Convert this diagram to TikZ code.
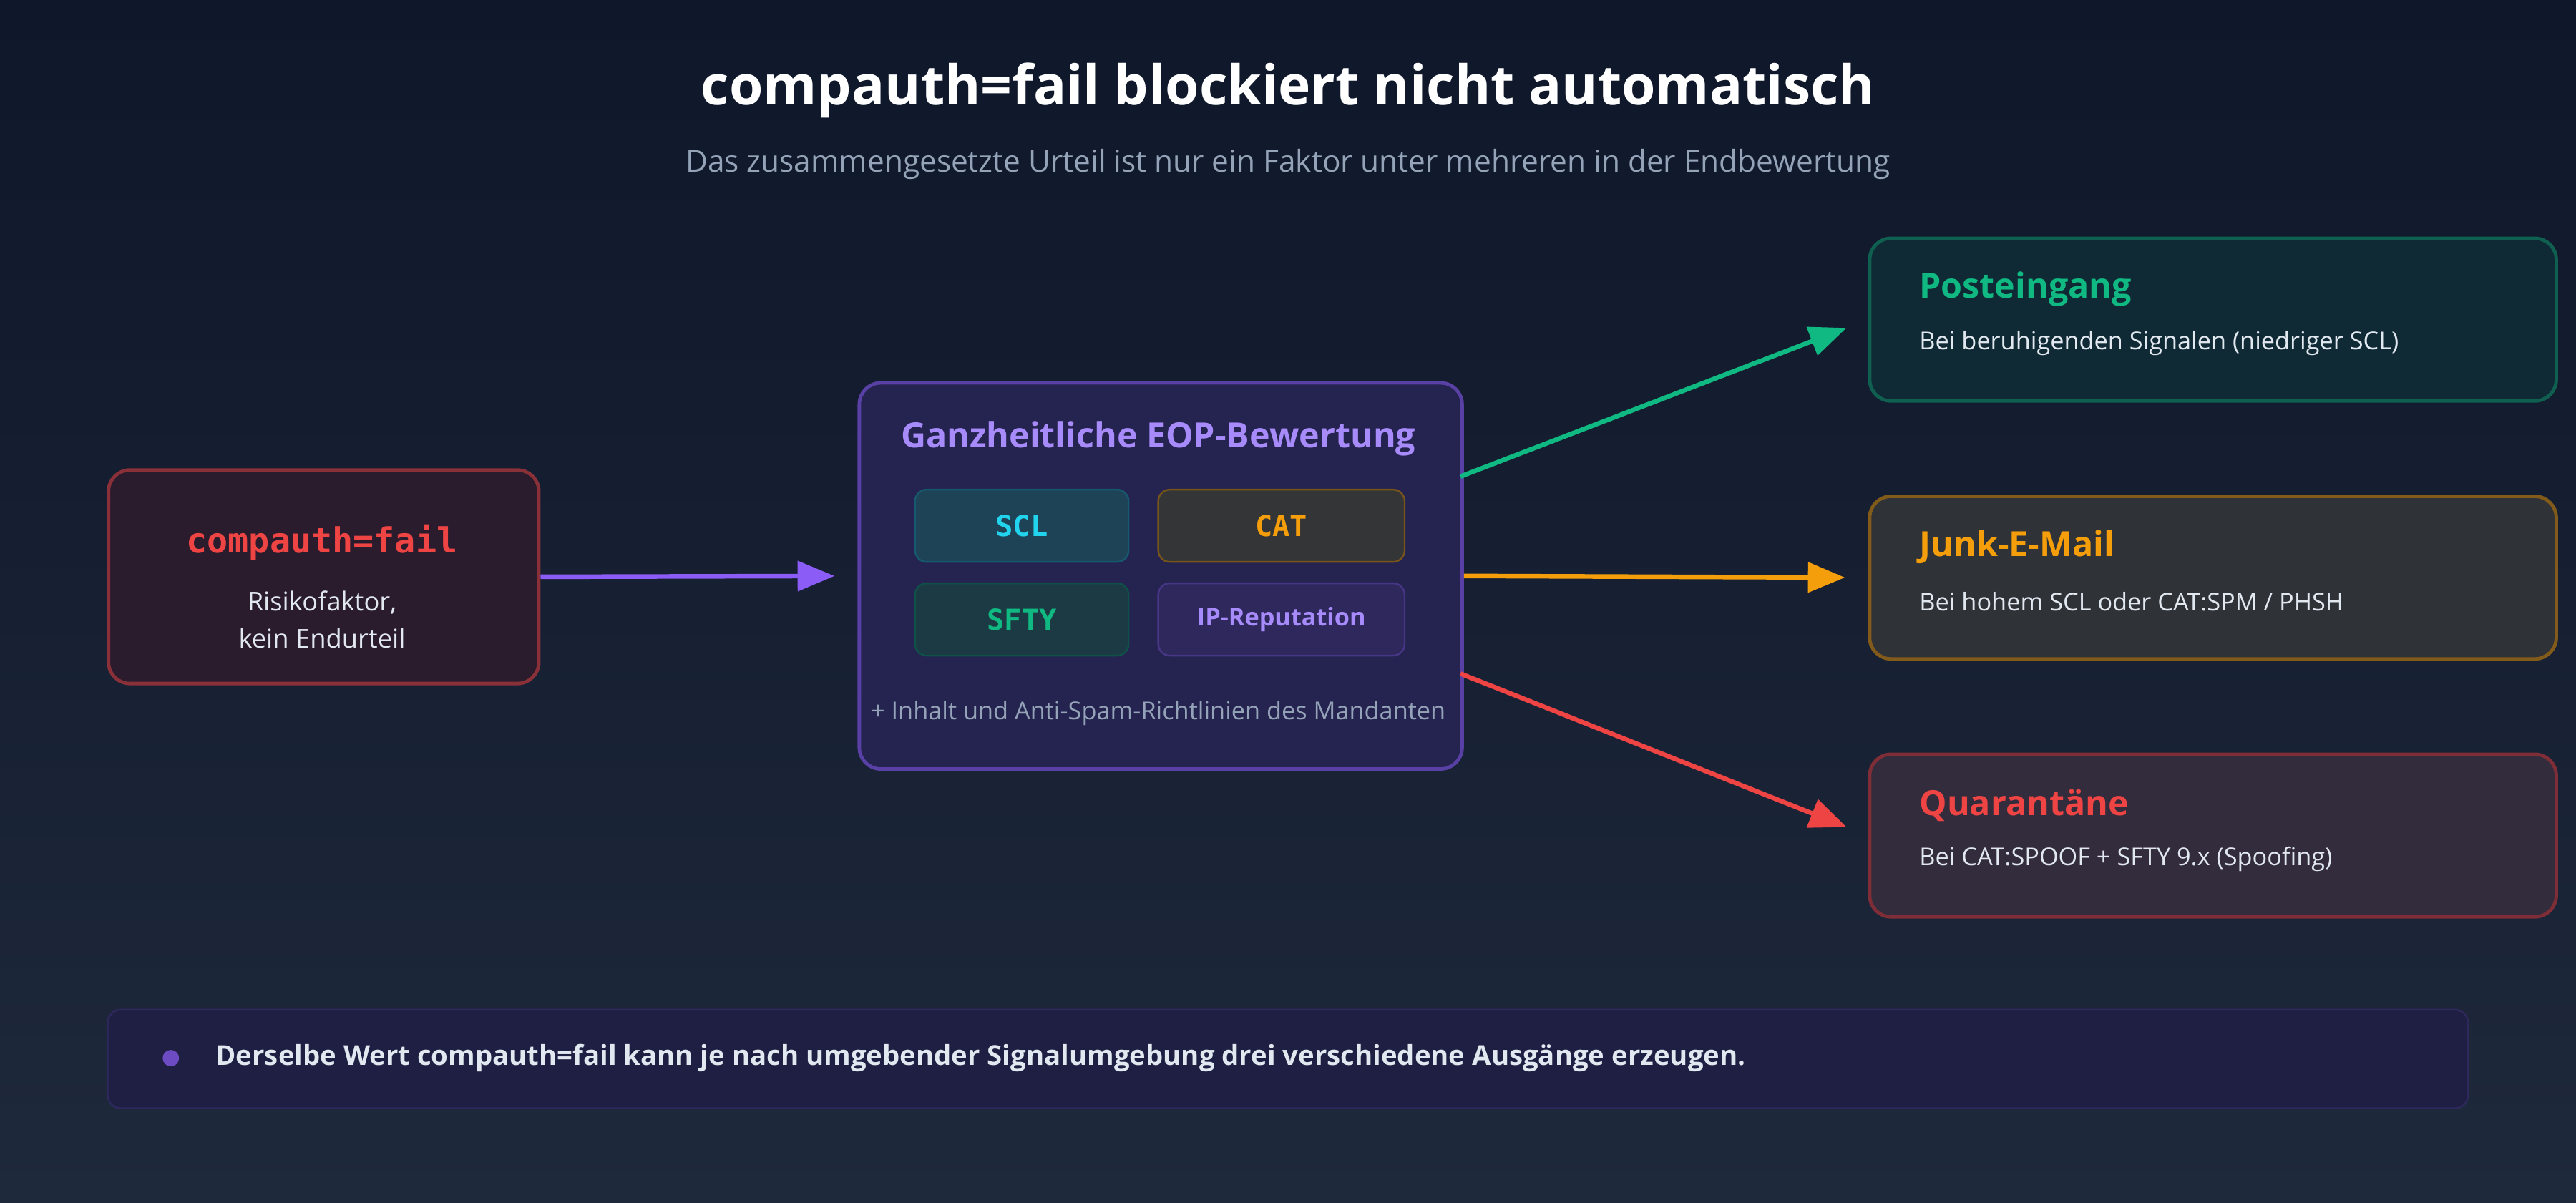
\documentclass[tikz,border=0pt]{standalone}
\usepackage{fontspec}
\setmainfont{Open Sans}
\setmonofont{DejaVu Sans Mono}
\usetikzlibrary{positioning,arrows.meta}
\definecolor{bgA}{HTML}{0F172A}
\definecolor{bgB}{HTML}{1E293B}
\definecolor{txt}{HTML}{E2E8F0}
\definecolor{mut}{HTML}{94A3B8}
\definecolor{vio}{HTML}{8B5CF6}
\definecolor{lvio}{HTML}{A78BFA}
\definecolor{grn}{HTML}{10B981}
\definecolor{org}{HTML}{F59E0B}
\definecolor{rd}{HTML}{EF4444}
\definecolor{cyn}{HTML}{22D3EE}
\tikzset{
  box/.style={draw, rounded corners=0.26cm, line width=1.2pt, inner sep=0pt, anchor=north west},
  chip/.style={draw, rounded corners=0.14cm, line width=0.6pt, minimum width=2.6cm, minimum height=0.88cm, font=\ttfamily\bfseries\fontsize{10}{12}\selectfont},
  flow/.style={line width=1.6pt, -{Triangle[length=0.45cm,width=0.36cm]}, shorten >=0.28cm},
  head/.style={anchor=west, inner xsep=0pt, font=\bfseries\fontsize{12}{14}\selectfont},
  body/.style={anchor=west, inner xsep=0pt, text=txt, font=\fontsize{8.5}{10}\selectfont}
}
\begin{document}
\begin{tikzpicture}[x=0.02cm, y=-0.02cm]
\shade[top color=bgA, bottom color=bgB] (0,0) rectangle (1568,732);
\useasboundingbox (0,0) rectangle (1568,732);
\node[text=white, font=\bfseries\fontsize{19}{22}\selectfont] (title) at (784,55) {compauth=fail blockiert nicht automatisch};
\node[text=mut, font=\fontsize{10.5}{12}\selectfont] (sub) at (784,100) {Das zusammengesetzte Urteil ist nur ein Faktor unter mehreren in der Endbewertung};
% input
\node[box, draw=rd!55!bgA, fill=rd!12!bgA, minimum width=5.24cm, minimum height=2.6cm] (comp) at (65,285) {};
\node[text=rd, font=\ttfamily\bfseries\fontsize{12}{14}\selectfont] at (196,330) {compauth=fail};
\node[text=txt, align=center, font=\fontsize{9}{13}\selectfont] at (196,377) {Risikofaktor,\\kein Endurteil};
% evaluation
\node[box, draw=vio!60!bgA, fill=vio!18!bgA, minimum width=7.34cm, minimum height=4.7cm] (eop) at (522,232) {};
\node[text=lvio, font=\bfseries\fontsize{12}{14}\selectfont] at (705,267) {Ganzheitliche EOP-Bewertung};
\node[chip, draw=cyn!35!bgA, fill=cyn!15!bgB, text=cyn] (scl) at (622,320) {SCL};
\node[chip, draw=org!45!bgA, fill=org!10!bgB, text=org, minimum width=3cm] (cat) at (780,320) {CAT};
\node[chip, draw=grn!35!bgA, fill=grn!12!bgB, text=grn] (sfty) at (622,377) {SFTY};
\node[chip, draw=vio!45!bgA, fill=vio!25!bgA, text=lvio, minimum width=3cm, font=\bfseries\fontsize{8.5}{10}\selectfont] (ip) at (780,377) {IP-Reputation};
\node[text=mut, font=\fontsize{8.5}{10}\selectfont] at (705,434) {+ Inhalt und Anti-Spam-Richtlinien des Mandanten};
% outcomes
\node[box, draw=grn!45!bgA, fill=grn!12!bgA, minimum width=8.36cm, minimum height=1.98cm] (inbox) at (1137,144) {};
\node[head, text=grn] at (1168,176) {Posteingang};
\node[body] at (1168,209) {Bei beruhigenden Signalen (niedriger SCL)};
\node[box, draw=org!50!bgA, fill=org!8!bgB, minimum width=8.36cm, minimum height=1.98cm] (junk) at (1137,301) {};
\node[head, text=org] at (1168,333) {Junk-E-Mail};
\node[body] at (1168,366) {Bei hohem SCL oder CAT:SPM / PHSH};
\node[box, draw=rd!50!bgA, fill=rd!10!bgB, minimum width=8.36cm, minimum height=1.98cm] (quar) at (1137,458) {};
\node[head, text=rd] at (1168,490) {Quarantäne};
\node[body] at (1168,523) {Bei CAT:SPOOF + SFTY 9.x (Spoofing)};
% connectors
\coordinate (eopA) at (889,290);
\coordinate (eopC) at (889,410);
\draw[flow, vio] (comp.east) -- (eop.west);
\draw[flow, grn] (eopA) -- (inbox.west);
\draw[flow, org] (eop.east) -- (junk.west);
\draw[flow, rd] (eopC) -- (quar.west);
% footer
\node[box, draw=vio!25!bgA, fill=vio!12!bgA, line width=0.6pt, rounded corners=0.16cm, minimum width=28.74cm, minimum height=1.2cm] (foot) at (65,614) {};
\fill[vio!75!bgA] (104,644) circle (5);
\node[anchor=west, inner xsep=0pt, text=txt, font=\bfseries\fontsize{9.5}{11}\selectfont] at (131,644) {Derselbe Wert compauth=fail kann je nach umgebender Signalumgebung drei verschiedene Ausgänge erzeugen.};
\end{tikzpicture}
\end{document}
